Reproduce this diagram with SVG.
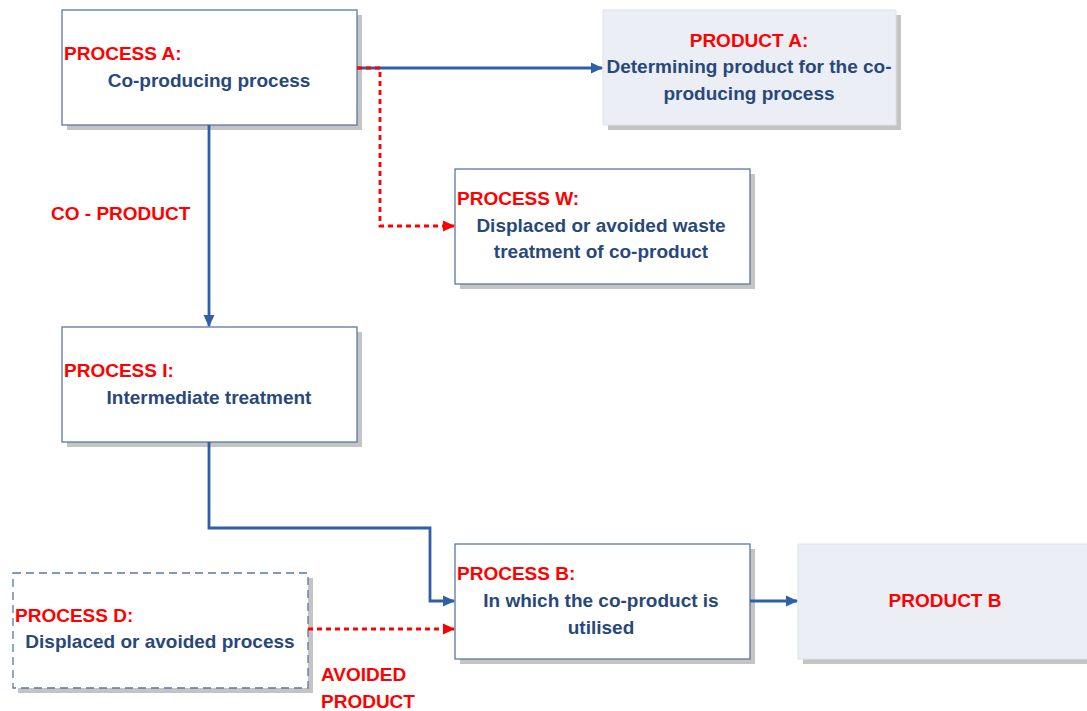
<svg xmlns="http://www.w3.org/2000/svg" width="1087" height="711" viewBox="0 0 1087 711">
<style>
.shadow{fill:#c4c4c4;stroke:none}
.box{fill:#ffffff;stroke:#5a78a6;stroke-width:1.3}
.dbox{fill:#ffffff;stroke:#5a78a6;stroke-width:1.3;stroke-dasharray:8,5}
.prod{fill:#ebeef4;stroke:#dde2ea;stroke-width:1}
.red{font-family:"Liberation Sans",Arial,sans-serif;font-weight:bold;font-size:19px;fill:#ff0000}
.blue{font-family:"Liberation Sans",Arial,sans-serif;font-weight:bold;font-size:19px;fill:#28487c}
.mid{text-anchor:middle}
.solid{fill:none;stroke:#2e5fa8;stroke-width:2.8}
.dash{fill:none;stroke:#ff0000;stroke-width:2.8;stroke-dasharray:5,4}
</style>
<defs>
<marker id="ab" markerWidth="12" markerHeight="12" refX="11" refY="6" orient="auto" markerUnits="userSpaceOnUse" viewBox="0 0 12 12">
<path d="M0,0.5 L12,6 L0,11.5 Z" fill="#2e5fa8"/>
</marker>
<marker id="ar" markerWidth="12" markerHeight="12" refX="11" refY="6" orient="auto" markerUnits="userSpaceOnUse" viewBox="0 0 12 12">
<path d="M0,0.5 L12,6 L0,11.5 Z" fill="#ff0000"/>
</marker>
</defs>

<g id="processA">
<rect class="shadow" x="67" y="15" width="295" height="115"/>
<rect class="box" x="62" y="10" width="295" height="115"/>
<text class="red" x="64" y="60">PROCESS A:</text>
<text class="blue mid" x="209" y="87">Co-producing process</text>
</g>

<g id="productA">
<rect class="shadow" x="608" y="15" width="293" height="115"/>
<rect class="prod" x="603" y="10" width="293" height="115"/>
<text class="red mid" x="749" y="47">PRODUCT A:</text>
<text class="blue mid" x="749" y="73">Determining product for the co-</text>
<text class="blue mid" x="749" y="100">producing process</text>
</g>

<g id="processW">
<rect class="shadow" x="460" y="174" width="295" height="115"/>
<rect class="box" x="455" y="169" width="295" height="115"/>
<text class="red" x="457" y="205">PROCESS W:</text>
<text class="blue mid" x="601" y="232">Displaced or avoided waste</text>
<text class="blue mid" x="601" y="258">treatment of co-product</text>
</g>

<g id="processI">
<rect class="shadow" x="67" y="332" width="295" height="115"/>
<rect class="box" x="62" y="327" width="295" height="115"/>
<text class="red" x="64" y="377">PROCESS I:</text>
<text class="blue mid" x="209" y="404">Intermediate treatment</text>
</g>

<g id="processB">
<rect class="shadow" x="460" y="549" width="295" height="115"/>
<rect class="box" x="455" y="544" width="295" height="115"/>
<text class="red" x="457" y="580">PROCESS B:</text>
<text class="blue mid" x="601" y="607">In which the co-product is</text>
<text class="blue mid" x="601" y="634">utilised</text>
</g>

<g id="productB">
<rect class="shadow" x="803" y="549" width="290" height="115"/>
<rect class="prod" x="798" y="544" width="295" height="115"/>
<text class="red mid" x="945" y="607">PRODUCT B</text>
</g>

<g id="processD">
<rect class="shadow" x="18" y="578" width="295" height="115"/>
<rect class="dbox" x="13" y="573" width="295" height="115"/>
<text class="red" x="15" y="622">PROCESS D:</text>
<text class="blue mid" x="160" y="648">Displaced or avoided process</text>
</g>

<g id="connectors">
<path class="solid" d="M357,68 H602" marker-end="url(#ab)"/>
<path class="dash" d="M357,68 H380 V226 H454" marker-end="url(#ar)"/>
<path class="solid" d="M209,125 V326" marker-end="url(#ab)"/>
<path class="solid" d="M209,442 V528 H430 V601 H454" marker-end="url(#ab)"/>
<path class="dash" d="M308,629 H454" marker-end="url(#ar)"/>
<path class="solid" d="M750,601 H797" marker-end="url(#ab)"/>
<text class="red" x="51" y="220">CO - PRODUCT</text>
<text class="red" x="321" y="681">AVOIDED</text>
<text class="red" x="321" y="708">PRODUCT</text>
</g>
</svg>
